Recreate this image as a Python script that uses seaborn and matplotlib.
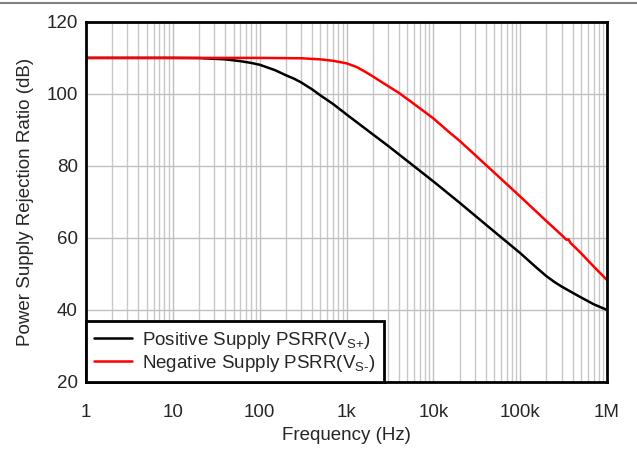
import numpy as np
import pandas as pd
import matplotlib
matplotlib.use('Agg')
import matplotlib.pyplot as plt
import seaborn as sns
from matplotlib.lines import Line2D
from matplotlib.ticker import FixedLocator, LogLocator, NullFormatter

freq_pos = [1, 10, 20, 40, 60, 80, 100, 150, 200, 250, 300, 400, 500, 700,
            1e3, 2e3, 3e3, 5e3, 1e4, 2e4, 5e4, 1e5, 1.5e5, 2e5, 2.5e5, 3e5,
            4e5, 5e5, 7e5, 1e6]
psrr_pos = [110, 110, 109.95, 109.6, 109.1, 108.6, 108.1, 106.6, 105.2, 104.2,
            103.2, 101.3, 99.6, 97.2, 94.3, 88.8, 85.6, 81.4, 75.7, 69.8,
            61.8, 55.8, 52.0, 49.4, 47.7, 46.5, 44.8, 43.5, 41.6, 40.0]

freq_neg = [1, 10, 100, 300, 500, 700, 1e3, 1.3e3, 1.6e3, 2e3, 2.5e3, 3e3, 4e3,
            5e3, 7e3, 1e4, 1.5e4, 2e4, 5e4, 1e5, 2e5, 3e5, 3.4e5, 3.6e5, 3.8e5,
            4.2e5, 5e5, 7e5, 1e6]
psrr_neg = [110, 110, 110, 109.9, 109.6, 109.2, 108.5, 107.5, 106.3, 104.9,
            103.4, 102.2, 100.3, 98.6, 96.0, 93.2, 89.5, 87.0, 78.2, 71.5, 64.7,
            60.8, 59.5, 59.6, 58.6, 57.6, 55.8, 52.1, 48.3]

labels = [r'Positive Supply PSRR(V$_{\text{S+}}$)',
          r'Negative Supply PSRR(V$_{\text{S-}}$)']
line_colors = ['black', '#ff0000']

xticks = [1, 10, 100, 1e3, 1e4, 1e5, 1e6]
xtick_labels = ['1', '10', '100', '1k', '10k', '100k', '1M']
yticks = [20, 40, 60, 80, 100, 120]

df = pd.concat([
    pd.DataFrame({'freq': freq_pos, 'psrr': psrr_pos, 'series': labels[0]}),
    pd.DataFrame({'freq': freq_neg, 'psrr': psrr_neg, 'series': labels[1]}),
])

sns.set_style('white')
plt.rcParams['font.family'] = ['Liberation Sans', 'DejaVu Sans']
plt.rcParams['mathtext.fontset'] = 'custom'
plt.rcParams['mathtext.rm'] = 'Liberation Sans'

fs = 13.5
fig = plt.figure(figsize=(6.37, 4.76), dpi=100)
ax = fig.add_axes([0.135, 0.1975, 0.818, 0.7565])

ax.set_xscale('log')
sns.lineplot(data=df, x='freq', y='psrr', hue='series', palette=line_colors,
             linewidth=1.8, ax=ax, sort=False, estimator=None)

ax.set_xlim(1, 1e6)
ax.set_ylim(20, 120)
ax.xaxis.set_major_locator(FixedLocator(xticks))
ax.set_xticklabels(xtick_labels)
ax.xaxis.set_minor_locator(LogLocator(base=10, subs=np.arange(2, 10), numticks=20))
ax.xaxis.set_minor_formatter(NullFormatter())
ax.set_yticks(yticks)
ax.tick_params(axis='both', which='both', length=0, labelsize=fs)
ax.tick_params(axis='x', pad=16)
ax.tick_params(axis='y', pad=6)
ax.grid(True, which='major', color='#bfbfbf', linewidth=1)
ax.grid(True, which='minor', axis='x', color='#c8c8c8', linewidth=1)
ax.set_axisbelow(True)
for s in ax.spines.values():
    s.set_color('black')
    s.set_linewidth(2)

ax.set_xlabel('Frequency (Hz)', fontsize=fs, labelpad=4)
ax.set_ylabel('Power Supply Rejection Ratio (dB)', fontsize=fs, labelpad=9)

leg = ax.legend(loc='lower left', borderaxespad=0, fancybox=False, framealpha=1,
                edgecolor='black', fontsize=fs, handlelength=2.0,
                handletextpad=0.55, borderpad=0.45, labelspacing=0.1, title=None)
leg.get_frame().set_linewidth(2)

# thin gray rule across the top of the image
fig.add_artist(Line2D([0, 1], [0.993, 0.993], color='#808080', linewidth=1.5,
                      transform=fig.transFigure))

fig.savefig('out.png', dpi=100)
